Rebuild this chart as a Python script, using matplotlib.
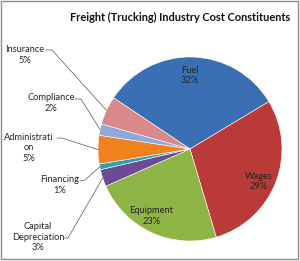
import numpy as np
import matplotlib
matplotlib.use('Agg')
import matplotlib.pyplot as plt
from matplotlib.patches import Rectangle

labels = ['Fuel', 'Wages', 'Equipment', 'Capital\nDepreciation', 'Financing',
          'Administrati\non', 'Compliance', 'Insurance']
values = [32, 29, 23, 3, 1, 5, 2, 5]
colors = ['#3a6fb3', '#b93a36', '#8db444', '#6d4b94', '#2fa0bc',
          '#f0821e', '#8eaadb', '#d9898a']

W, H = 300, 261
fig = plt.figure(figsize=(3.0, 2.61), dpi=100)
ax = fig.add_axes([0, 0, 1, 1])

plt.rcParams['font.family'] = ['Lato', 'DejaVu Sans']

cx, cy, r = 190, H - 149, 92
wedges, _ = ax.pie(values, colors=colors, startangle=146.2, counterclock=False,
                   center=(cx, cy), radius=r, frame=True,
                   wedgeprops=dict(edgecolor='white', linewidth=0.4))
ax.set_xlim(0, W)
ax.set_ylim(0, H)
ax.set_aspect('equal')
ax.axis('off')

def edge_pt(w, frac=1.0, da=0.0):
    a = np.deg2rad((w.theta1 + w.theta2) / 2 + da)
    return cx + frac * r * np.cos(a), cy + frac * r * np.sin(a)

fs = 6.7
tc = '#262626'
# inside labels
inside = {0: (0.80, 1.5), 1: (0.83, -4), 2: (0.84, -5)}
for i, (f, da) in inside.items():
    x, y = edge_pt(wedges[i], f, da)
    ax.text(x, y, f'{labels[i]}\n{values[i]}%', ha='center', va='center',
            fontsize=fs, color=tc, linespacing=1.2)

# outside labels: text pos (pixels, top-left origin), elbow start, elbow end
outside = {
    7: ((25, 55), (46, 50), (52, 50)),
    6: ((51, 103), (75, 99), (81, 99)),
    5: ((29, 148), (57, 138), (62, 138)),
    4: ((60, 185), (80, 181), (85, 180)),
    3: ((38, 237), (64, 238), (68, 238)),
}
for i, (tp, p0, p1) in outside.items():
    ax.text(tp[0], H - tp[1], f'{labels[i]}\n{values[i]}%', ha='center',
            va='center', fontsize=fs, color=tc, linespacing=1.2)
    ex, ey = edge_pt(wedges[i], 1.0)
    ax.plot([p0[0], p1[0], ex], [H - p0[1], H - p1[1], ey],
            color='#555555', linewidth=0.5)

ax.text(180, H - 17, 'Freight (Trucking) Industry Cost Constituents',
        ha='center', va='center', fontsize=7.9, fontweight='bold',
        color='#111111')

fig.patches.append(Rectangle((0.002, 0.006), 0.99, 0.99, transform=fig.transFigure,
                             fill=False, edgecolor='#8c8c8c', linewidth=1))

fig.savefig('out.png', dpi=100)
